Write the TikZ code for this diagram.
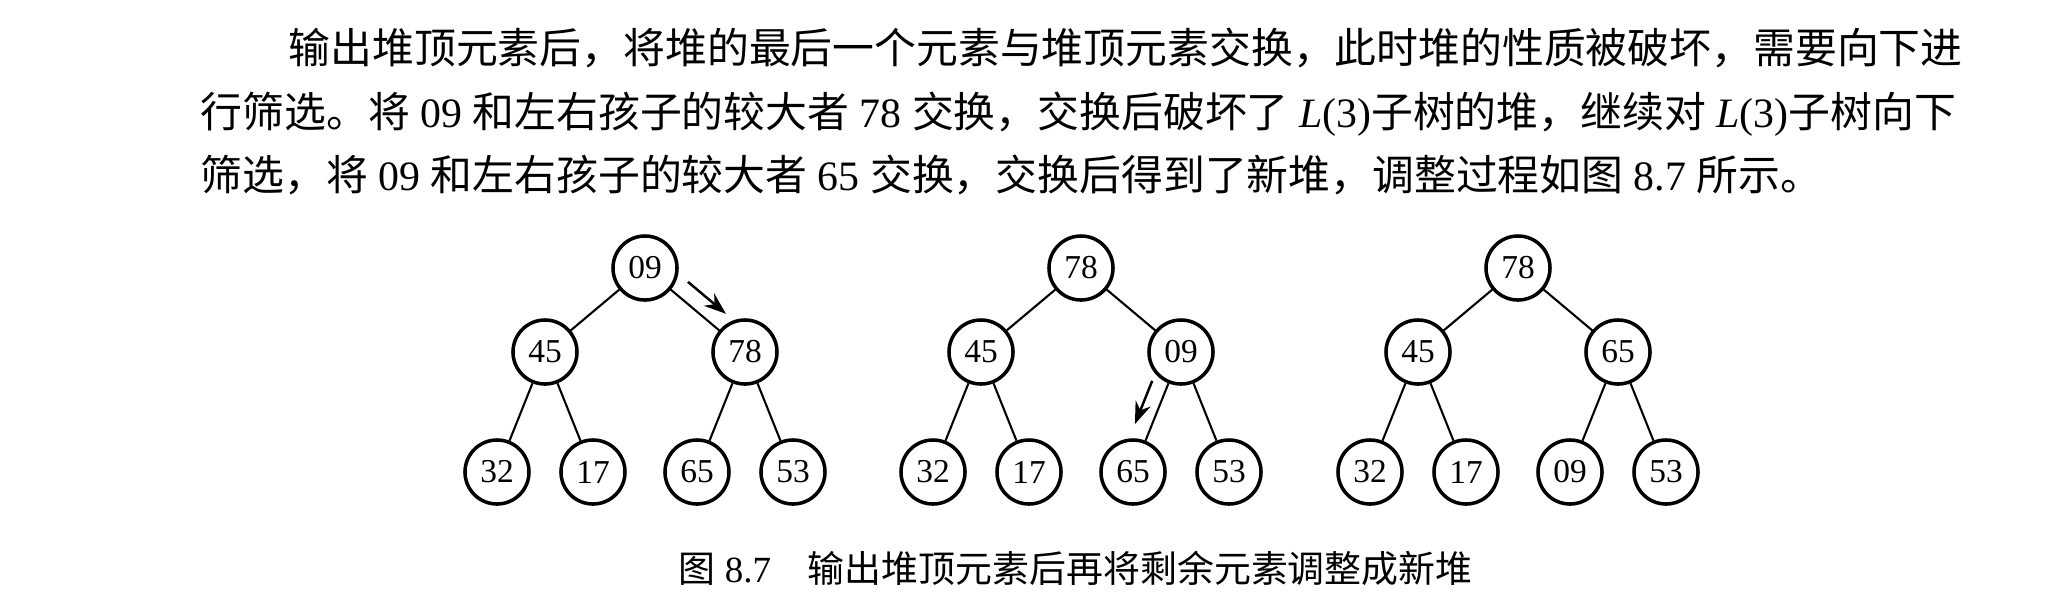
\documentclass[tikz,border=0pt]{standalone}
\usepackage{fontspec}
\setmainfont{Liberation Serif}
\newfontfamily\cjk{Noto Sans CJK SC}
\usetikzlibrary{arrows.meta}
\usetikzlibrary{calc}

\begin{document}
\begin{tikzpicture}[x=0.01cm, y=-0.01cm,
  key/.style={circle, draw, line width=1pt, minimum size=0.64cm, inner sep=0pt,
    font=\fontsize{9.5pt}{10pt}\selectfont},
  link/.style={line width=0.6pt},
  move/.style={line width=0.7pt, -{Stealth[length=2.2mm, width=1.6mm]}},
  para/.style={anchor=base west, inner sep=0pt, font=\fontsize{11.9pt}{14pt}\selectfont},
  capt/.style={anchor=base west, inner sep=0pt, font=\fontsize{10.5pt}{12pt}\selectfont}]
  \useasboundingbox (0,0) rectangle (2059,599);
  % paragraph above the figure
  \node[para] (line1) at (288,63) {{\cjk 输出堆顶元素后，将堆的最后一个元素与堆顶元素交换，此时堆的性质被破坏，需要向下进}};
  \node[para] (line2) at (200,127) {{\cjk 行筛选。将} 09 {\cjk 和左右孩子的较大者} 78 {\cjk 交换，交换后破坏了} \textit{L}(3){\cjk 子树的堆，继续对} \textit{L}(3){\cjk 子树向下}};
  \node[para] (line3) at (200,190) {{\cjk 筛选，将} 09 {\cjk 和左右孩子的较大者} 65 {\cjk 交换，交换后得到了新堆，调整过程如图} 8.7 {\cjk 所示。}};
  % the three heaps
  \foreach \T/\X/\va/\vb/\vc/\vd/\ve/\vf/\vg in
    {a/645/09/45/78/32/17/65/53, b/1081/78/45/09/32/17/65/53, c/1518/78/45/65/32/17/09/53}{
    \node[key] (\T1) at (\X,268) {\va};
    \node[key] (\T2) at (\X-100,352) {\vb};
    \node[key] (\T3) at (\X+100,352) {\vc};
    \node[key] (\T4) at (\X-148,472) {\vd};
    \node[key] (\T5) at (\X-52,472) {\ve};
    \node[key] (\T6) at (\X+52,472) {\vf};
    \node[key] (\T7) at (\X+148,472) {\vg};
    \draw[link] (\T1) -- (\T2) (\T1) -- (\T3) (\T2) -- (\T4) (\T2) -- (\T5) (\T3) -- (\T6) (\T3) -- (\T7);
  }
  % sift-down arrows
  \draw[move] ($(a1)!0.32!(a3)!0.17cm!90:(a3)$) -- ($(a1)!0.70!(a3)!0.17cm!90:(a3)$);
  \draw[move] ($(b3)!0.29!(b6)!0.16cm!-90:(b6)$) -- ($(b3)!0.65!(b6)!0.16cm!-90:(b6)$);
  % caption
  \node[capt] (caption) at (678,582) {{\cjk 图} 8.7\hspace{1em}{\cjk 输出堆顶元素后再将剩余元素调整成新堆}};
\end{tikzpicture}
\end{document}
